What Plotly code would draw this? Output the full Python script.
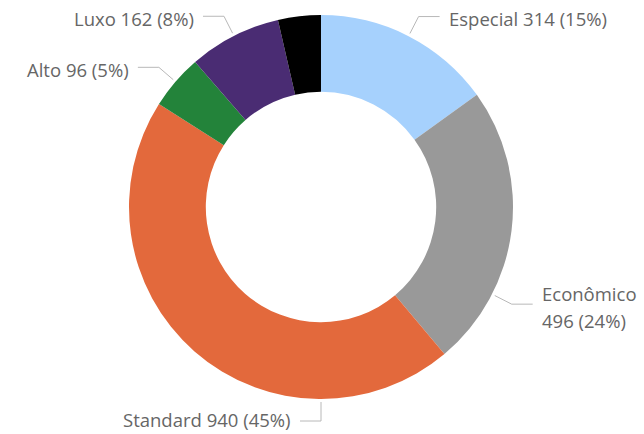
import math
import plotly.graph_objects as go

# ---- data ----
categories = ["Especial", "Econômico", "Standard", "Alto", "Luxo", "(Em branco)"]
values = [314, 496, 940, 96, 162, 75]
show_label = [True, True, True, True, True, False]

# ---- styles / layout ----
colors = ["#A6D1FD", "#999999", "#E3693C", "#23833A", "#4A2C73", "#000000"]
W, H = 644, 434
CX, CY = 321, 207          # pie centre in pixels
R = 192                    # outer radius in pixels
HOLE = 0.6
FONT = "Open Sans"
FSIZE = 18.5
TXT_COLOR = "#666666"
LINE_COLOR = "#B8B8B8"
label_angle_override = {"Econômico": 117, "Standard": 180}
wrap_labels = {"Econômico"}

total = sum(values)


def px(x):
    return x / W


def py(y):
    return 1 - y / H


fig = go.Figure(
    go.Pie(
        labels=categories,
        values=values,
        hole=HOLE,
        sort=False,
        direction="clockwise",
        rotation=0,
        marker=dict(colors=colors, line=dict(width=0)),
        textinfo="none",
        hoverinfo="label+value+percent",
        showlegend=False,
        domain=dict(x=[px(CX - R), px(CX + R)], y=[py(CY + R), py(CY - R)]),
    )
)

shapes = []
annotations = []
cum = 0
for name, v, show in zip(categories, values, show_label):
    mid = (cum + v / 2) / total * 360
    cum += v
    if not show:
        continue
    ang = label_angle_override.get(name, mid)
    a = math.radians(ang)
    sx, sy = CX + (R + 3) * math.sin(a), CY - (R + 3) * math.cos(a)
    ex, ey = CX + (R + 22) * math.sin(a), CY - (R + 22) * math.cos(a)
    right = math.sin(a) > 1e-6
    hx = ex + (21 if right else -21)
    shapes.append(dict(
        type="path", xref="paper", yref="paper",
        path=f"M {px(sx)},{py(sy)} L {px(ex)},{py(ey)} L {px(hx)},{py(ey)}",
        line=dict(color=LINE_COLOR, width=1),
    ))
    pct = round(v / total * 100)
    tx = hx + (7 if right else -7)
    anchor = "left" if right else "right"
    if name in wrap_labels:
        lines = [name, f"{v} ({pct}%)"]
        ys = [ey - 11, ey + 16]
    else:
        lines = [f"{name} {v} ({pct}%)"]
        ys = [min(ey + 2, H - 15)]
    for t, yy in zip(lines, ys):
        annotations.append(dict(
            x=px(tx), y=py(yy), xref="paper", yref="paper",
            text=t, showarrow=False, xanchor=anchor, yanchor="middle",
            font=dict(family=FONT, size=FSIZE, color=TXT_COLOR),
        ))

fig.update_layout(
    width=W, height=H,
    margin=dict(l=0, r=0, t=0, b=0),
    paper_bgcolor="white", plot_bgcolor="white",
    shapes=shapes, annotations=annotations,
)

fig.write_html(
    "out.html",
    config={"displayModeBar": False},
    post_script="document.body.style.margin='0';document.body.style.overflow='hidden';",
)
